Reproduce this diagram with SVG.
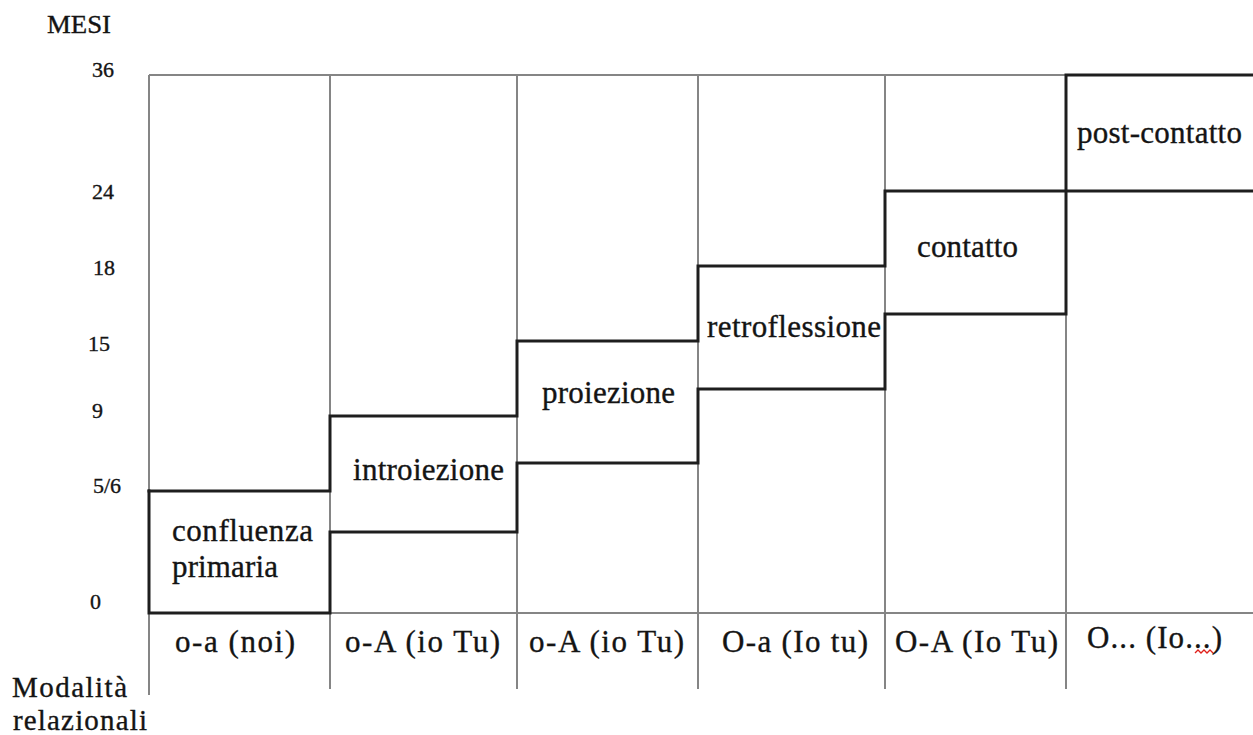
<svg xmlns="http://www.w3.org/2000/svg" width="1253" height="735" viewBox="0 0 1253 735">
  <style>
    .grid { stroke: #858585; stroke-width: 2; fill: none; }
    .step { stroke: #1e1e1e; stroke-width: 3; fill: none; stroke-linejoin: miter; stroke-linecap: square; }
    text { font-family: "Liberation Serif", "Times New Roman", serif; fill: #141414; stroke: #141414; stroke-width: 0.35; }
    .lbl { font-size: 31px; }
    .axis { font-size: 22px; }
    .title { font-size: 25px; }
    .mod { font-size: 29px; }
  </style>
  <rect width="1253" height="735" fill="#ffffff"/>

  <!-- table grid -->
  <g id="grid">
    <line class="grid" x1="149" y1="75" x2="1066" y2="75"/>
    <line class="grid" x1="149" y1="613" x2="1253" y2="613"/>
    <line class="grid" x1="149" y1="75" x2="149" y2="695"/>
    <line class="grid" x1="330" y1="75" x2="330" y2="689"/>
    <line class="grid" x1="517" y1="75" x2="517" y2="689"/>
    <line class="grid" x1="698" y1="75" x2="698" y2="689"/>
    <line class="grid" x1="885" y1="75" x2="885" y2="689"/>
    <line class="grid" x1="1066" y1="75" x2="1066" y2="689"/>
  </g>

  <!-- staircase boundaries of the phases -->
  <g id="connectors">
    <path class="step" d="M149 491 H330 V416 H517 V341 H698 V266 H885 V191 H1253"/>
    <path class="step" d="M149 491 V613 H330 V532 H517 V463 H698 V389 H885 V314 H1066 V191 V75 H1253"/>
  </g>

  <!-- vertical axis -->
  <g id="axis-mesi">
    <text class="title" x="47" y="33" textLength="64" lengthAdjust="spacingAndGlyphs">MESI</text>
    <text class="axis" x="92" y="77">36</text>
    <text class="axis" x="92" y="199">24</text>
    <text class="axis" x="93" y="275">18</text>
    <text class="axis" x="88" y="351">15</text>
    <text class="axis" x="92" y="418">9</text>
    <text class="axis" x="93" y="493">5/6</text>
    <text class="axis" x="90" y="609">0</text>
  </g>

  <!-- phases -->
  <g id="confluenza">
    <text class="lbl" x="172" y="541" textLength="141">confluenza</text>
    <text class="lbl" x="172" y="577" textLength="106">primaria</text>
  </g>
  <g id="introiezione">
    <text class="lbl" x="353" y="480" textLength="151">introiezione</text>
  </g>
  <g id="proiezione">
    <text class="lbl" x="542" y="403" textLength="133">proiezione</text>
  </g>
  <g id="retroflessione">
    <text class="lbl" x="707" y="337" textLength="174">retroflessione</text>
  </g>
  <g id="contatto">
    <text class="lbl" x="917" y="257" textLength="101">contatto</text>
  </g>
  <g id="post-contatto">
    <text class="lbl" x="1077" y="143" textLength="165">post-contatto</text>
  </g>

  <!-- relational modes row -->
  <g id="modalita">
    <text class="mod" x="12" y="697" textLength="115">Modalità</text>
    <text class="mod" x="13" y="730" textLength="134">relazionali</text>
  </g>
  <g id="mod-1"><text class="lbl" x="175" y="652" textLength="120">o-a (noi)</text></g>
  <g id="mod-2"><text class="lbl" x="345" y="652" textLength="155">o-A (io Tu)</text></g>
  <g id="mod-3"><text class="lbl" x="529" y="652" textLength="155">o-A (io Tu)</text></g>
  <g id="mod-4"><text class="lbl" x="722" y="652" textLength="146">O-a (Io tu)</text></g>
  <g id="mod-5"><text class="lbl" x="895" y="652" textLength="163">O-A (Io Tu)</text></g>
  <g id="mod-6">
    <text class="lbl" x="1087" y="648" textLength="135">O... (Io...)</text>
    <path d="M1195 653 l3 -3 l3 3 l3 -3 l3 3 l3 -3 l3 3" stroke="#e0201a" stroke-width="1.3" fill="none"/>
  </g>
</svg>
